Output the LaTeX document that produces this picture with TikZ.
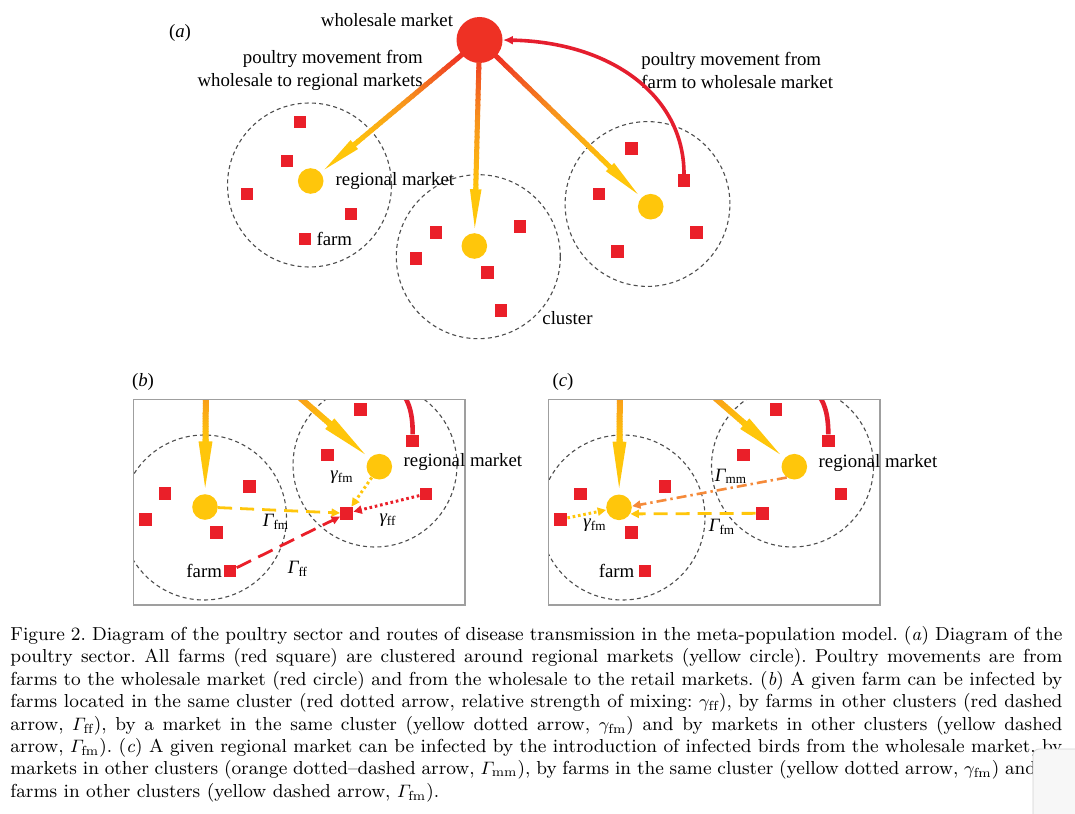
\documentclass[tikz,border=0pt]{standalone}
\usepackage{amsmath}
\usepackage{fontspec}
\usepackage{xcolor}
\usetikzlibrary{arrows.meta,calc,positioning}
\newfontfamily\figfont{Liberation Serif}
\definecolor{wsred}{HTML}{EE3124}
\definecolor{farmred}{HTML}{EA1F29}
\definecolor{mkyellow}{HTML}{FFC60B}
\definecolor{mvorange}{HTML}{F7941D}
\definecolor{curvered}{HTML}{E51E2E}
\definecolor{dotorange}{HTML}{F58A3A}
\definecolor{dashgray}{HTML}{4D4D4D}
\newcommand{\trl}[2]{{\itshape #1}\textsubscript{\upshape #2}}
% shaft with colour ramp, then a long yellow head
\newcommand{\mvarrow}[4]{%
  \pgfmathsetmacro{\hl}{22*#4}\pgfmathsetmacro{\hw}{5*#4}\pgfmathsetmacro{\sw}{2.5*#4}%
  \coordinate (mvtip) at ($(#2)!6.4pt!(#1)$);
  \coordinate (mvbarb) at ($(mvtip)!\hl pt!(#1)$);
  \foreach \k in {0,...,23}{%
    \pgfmathsetmacro{\ta}{\k/24}\pgfmathsetmacro{\tb}{(\k+1.3)/24}%
    \pgfmathsetmacro{\cv}{#3+(1-#3)*\k/24}%
    \pgfmathtruncatemacro{\pr}{\cv<0.5 ? 100-200*\cv : 0}%
    \pgfmathtruncatemacro{\py}{\cv<0.5 ? 100 : 200-200*\cv}%
    \draw[line width=\sw pt,draw=wsred!\pr!mvorange!\py!mkyellow]
      ($(#1)!\ta!(mvbarb)$) -- ($(#1)!\tb!(mvbarb)$);
  }
  \draw[line width=\sw pt,draw=mkyellow,-{Triangle[length=\hl pt 0 0,width=\hw pt 0 0]}]
    ($(mvbarb)!-1pt!(mvtip)$) -- (mvtip);
}
\tikzset{
  farm/.style={rectangle,fill=farmred,minimum size=6.3pt,inner sep=0pt},
  market/.style={circle,fill=mkyellow,minimum size=12.8pt,inner sep=0pt},
  wholesale/.style={circle,fill=wsred,minimum size=23pt,inner sep=0pt},
  cluster/.style={draw=dashgray,line width=0.55pt,dash pattern=on 2pt off 1.6pt},
  panelbox/.style={draw=gray!75,line width=0.6pt},
  lbl/.style={font=\figfont\fontsize{9.4}{11.5}\selectfont,inner sep=0pt},
  backline/.style={line width=1.8pt,draw=curvered},
  backflow/.style={backline,-{Latex[length=5pt,width=4.5pt]}},
  tiny/.style={-{Triangle[length=4.2pt,width=4pt]}},
  ffdot/.style={tiny,line width=1.5pt,draw=farmred,dash pattern=on 1.3pt off 1.4pt},
  ffdash/.style={tiny,line width=1.4pt,draw=farmred,dash pattern=on 8pt off 4pt},
  fmdot/.style={tiny,line width=1.5pt,draw=mkyellow,dash pattern=on 1.3pt off 1.4pt},
  fmdash/.style={tiny,line width=1.4pt,draw=mkyellow,dash pattern=on 7pt off 4pt},
  mmdashdot/.style={tiny,line width=1.3pt,draw=dotorange,dash pattern=on 5pt off 2pt on 1.2pt off 2pt}
}
\begin{document}
\begin{tikzpicture}[x=0.5pt,y=-0.5pt]
  \useasboundingbox (0,0) rectangle (1075,813);
  % (a) poultry sector
  \node[lbl] (alab) at (180,33) {(\textit{a})};
  \node[wholesale] (wm) at (479.5,40) {};
  \node[lbl] (wmlbl) at (387,20) {wholesale market};
  \node[lbl,align=right,anchor=east] (mvleft) at (423,70.5) {poultry movement from\\wholesale to regional markets};
  \node[lbl,align=left,anchor=west] (mvright) at (641,70.5) {poultry movement from\\farm to wholesale market};
  \draw[cluster] (309.5,185) circle[radius=41pt];
  \draw[cluster] (478.3,256.7) circle[radius=41pt];
  \draw[cluster] (647.5,204) circle[radius=41.2pt];
  \node[market] (rmA) at (310.7,181) {};
  \node[market] (rmB) at (474.3,246) {};
  \node[market] (rmC) at (650.7,206.7) {};
  \foreach \n/\p in {fA1/{300,122},fA2/{287,161},fA3/{247,194},fA4/{351,214},fA5/{305,239},
    fB1/{436,232.7},fB2/{520,226.7},fB3/{416,258.3},fB4/{487.3,272.7},fB5/{501,310.7},
    fC1/{631.7,148.3},fC2/{684,180.7},fC3/{599,194},fC4/{696.7,232.7},fC5/{617.7,251.7}}
    {\node[farm] (\n) at (\p) {};}
  \node[lbl,right=5.7pt of rmA] (rmAlbl) {regional market};
  \node[lbl,right=2.2pt of fA5] (fA5lbl) {farm};
  \node[lbl,anchor=west] (cllbl) at (542,318) {cluster};
  \coordinate (sA) at ($(wm)!11pt!(rmA)$);
  \coordinate (sB) at ($(wm)!11pt!(rmB)$);
  \coordinate (sC) at ($(wm)!11pt!(rmC)$);
  \mvarrow{sA}{rmA}{0}{1}
  \mvarrow{sB}{rmB}{0.1}{1}
  \mvarrow{sC}{rmC}{0}{1}
  \draw[backflow] (fC2.north) .. controls (684,95) and (610,42) .. (wm.east);

  % (b) infection of a farm
  \node[lbl] (blab) at (143,382) {(\textit{b})};
  \node[market] (mkBl) at (205,507) {};
  \node[market] (mkBr) at (379.3,466.7) {};
  \foreach \n/\p in {bl1/{165,493.3},bl2/{145.7,519.3},bl3/{249.3,486.7},bl4/{216.7,532.7},bl5/{230,571},
    br1/{360.7,409.3},br2/{412.7,441},br3/{327.7,455},br4/{426,494},br0/{346.7,513.3}}
    {\node[farm] (\n) at (\p) {};}
  \coordinate (topBv) at (206,380);
  \coordinate (topBd) at (286.6,386.2);
  \begin{scope}
    \clip (133.3,399.3) rectangle (465,605);
    \draw[cluster] (204,517.5) circle[radius=41.25pt];
    \draw[cluster] (375,465) circle[radius=41pt];
    \mvarrow{topBv}{mkBl}{0.45}{1.2}
    \mvarrow{topBd}{mkBr}{0.45}{1.2}
    \draw[backline,line width=2.3pt] (396,386) .. controls (408,398) and (412.7,410) .. (br2.north);
  \end{scope}
  \draw[panelbox] (133.3,399.3) rectangle (465,605);
  \draw[fmdash] (mkBl) -- (br0);
  \draw[fmdot] (mkBr) -- (br0);
  \draw[ffdot] (br4) -- (br0);
  \draw[ffdash] (bl5) -- (br0);
  \node[lbl,anchor=west] (mkBrlbl) at (403.3,462) {regional market};
  \node[lbl,left=0.5pt of bl5] (bl5lbl) {farm};
  \node[lbl] (gfmB) at (342,477) {\trl{γ}{fm}};
  \node[lbl] (GfmB) at (276,522) {\trl{Γ}{fm}};
  \node[lbl] (gffB) at (388,520) {\trl{γ}{ff}};
  \node[lbl] (GffB) at (298,569) {\trl{Γ}{ff}};

  % (c) infection of a market
  \node[lbl] (clab) at (563,382) {(\textit{c})};
  \node[market] (mkCl) at (619,507.3) {};
  \node[market] (mkCr) at (794.3,466.7) {};
  \foreach \n/\p in {cl1/{580.7,494},cl2/{560.7,519.3},cl3/{665,486.7},cl4/{631.7,532.7},cl5/{645,571},
    cr1/{776,409.3},cr2/{828.3,441},cr3/{743.3,455},cr4/{841,494},cr0/{762.3,513.3}}
    {\node[farm] (\n) at (\p) {};}
  \coordinate (topCv) at (620,380);
  \coordinate (topCd) at (701.6,386.2);
  \begin{scope}
    \clip (548.3,399.3) rectangle (880,605);
    \draw[cluster] (622.5,517.5) circle[radius=41.25pt];
    \draw[cluster] (792.5,466) circle[radius=40.5pt];
    \mvarrow{topCv}{mkCl}{0.45}{1.2}
    \mvarrow{topCd}{mkCr}{0.45}{1.2}
    \draw[backline,line width=2.3pt] (811,386) .. controls (823,398) and (828.3,410) .. (cr2.north);
  \end{scope}
  \draw[panelbox] (548.3,399.3) rectangle (880,605);
  \draw[mmdashdot] (mkCr.-125) -- (mkCl.5);
  \draw[fmdash] (cr0) -- (mkCl.-30);
  \draw[fmdot] (cl2) -- (mkCl);
  \node[lbl,anchor=west] (mkCrlbl) at (818.3,463) {regional market};
  \node[lbl,left=1.8pt of cl5] (cl5lbl) {farm};
  \node[lbl] (GmmC) at (731,476) {\trl{Γ}{mm}};
  \node[lbl] (GfmC) at (722,527) {\trl{Γ}{fm}};
  \node[lbl] (gfmC) at (595,525) {\trl{γ}{fm}};

  % caption
  \node[anchor=north west,text width=526pt,align=justify,inner sep=0pt,
    font=\fontsize{9.4}{11.2}\selectfont\frenchspacing] (cap) at (10,626) {Figure 2. Diagram of the poultry sector and routes of disease transmission in the meta-population model. (\textit{a}) Diagram of the\linebreak
    poultry sector. All farms (red square) are clustered around regional markets (yellow circle). Poultry movements are from\linebreak
    farms to the wholesale market (red circle) and from the wholesale to the retail markets. (\textit{b}) A given farm can be infected by\linebreak
    farms located in the same cluster (red dotted arrow, relative strength of mixing: $\gamma_{\mathrm{ff}}$), by farms in other clusters (red dashed\linebreak
    arrow, $\varGamma_{\mathrm{ff}}$), by a market in the same cluster (yellow dotted arrow, $\gamma_{\mathrm{fm}}$) and by markets in other clusters (yellow dashed\linebreak
    arrow, $\varGamma_{\mathrm{fm}}$). (\textit{c}) A given regional market can be infected by the introduction of infected birds from the wholesale market, by\linebreak
    markets in other clusters (orange dotted--dashed arrow, $\varGamma_{\mathrm{mm}}$), by farms in the same cluster (yellow dotted arrow, $\gamma_{\mathrm{fm}}$) and by\linebreak
    farms in other clusters (yellow dashed arrow, $\varGamma_{\mathrm{fm}}$).};
  \draw[draw=gray!35,fill=gray!6,rounded corners=3pt] (1033,749) rectangle (1095,830);
\end{tikzpicture}
\end{document}
